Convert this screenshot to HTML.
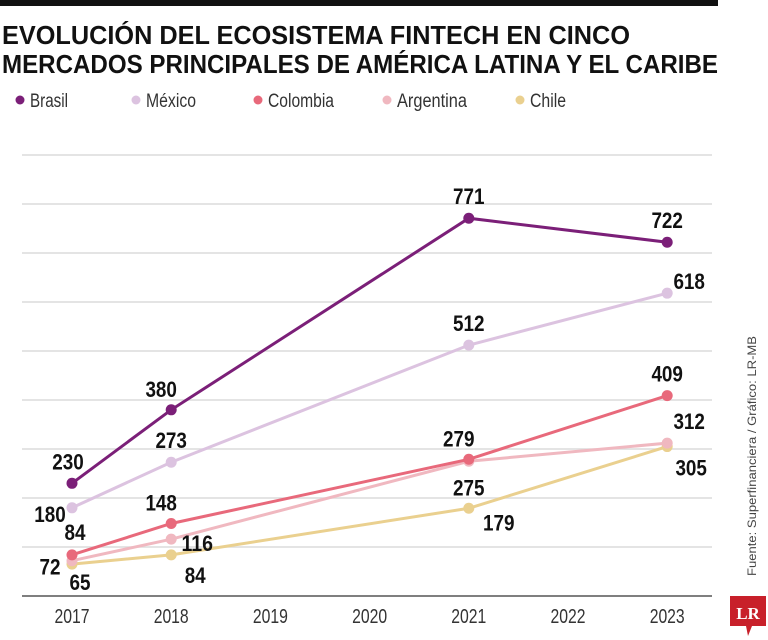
<!DOCTYPE html>
<html><head><meta charset="utf-8"><style>
html,body{margin:0;padding:0;background:#fff;}
svg{display:block;font-family:"Liberation Sans",sans-serif;}
</style></head><body>
<svg id="c" width="768" height="640" viewBox="0 0 768 640">
<rect x="0" y="0" width="718" height="6" fill="#111"/>
<text x="2" y="44" font-size="26" font-weight="bold" fill="#111" textLength="628" lengthAdjust="spacingAndGlyphs">EVOLUCIÓN DEL ECOSISTEMA FINTECH EN CINCO</text>
<text x="2" y="73" font-size="26" font-weight="bold" fill="#111" textLength="716" lengthAdjust="spacingAndGlyphs">MERCADOS PRINCIPALES DE AMÉRICA LATINA Y EL CARIBE</text>
<g id="legend"></g>
<g id="grid"></g>
<g id="xaxis"></g>
<g id="series"></g>
<g id="labels"></g>
<text transform="translate(756,576) rotate(-90)" font-size="12" fill="#444" textLength="240" lengthAdjust="spacingAndGlyphs">Fuente: Superfinanciera / Gráfico: LR-MB</text>
<g>
<path d="M730 596 H766 V626 H752 L748 636 L746 626 H730 Z" fill="#c8202a"/>
<text x="748" y="619" font-family="Liberation Serif,serif" font-weight="bold" font-size="17" fill="#fff" text-anchor="middle">LR</text>
</g>
</svg>
<script>
const years = ["2017","2018","2019","2020","2021","2022","2023"];
const seriesNames = ["Brasil","México","Colombia","Argentina","Chile"];
const dataYears = ["2017","2018","2021","2023"];
const brasil = [230,380,771,722];
const mexico = [180,273,512,618];
const colombia = [84,148,279,409];
const argentina = [72,116,275,312];
const chile = [65,84,179,305];
const gridValues = [100,200,300,400,500,600,700,800,900];

const colors = ["#7b1f78","#dcc3e0","#e8697b","#f0b8c0","#ead08f"];
const allData = [brasil,mexico,colombia,argentina,chile];
const NS = "http://www.w3.org/2000/svg";
function xs(y){ return 72 + years.indexOf(y)*99.2; }
function ys(v){ return 596 - v*0.49; }
function el(tag, attrs, parent){ const e=document.createElementNS(NS,tag); for(const k in attrs) e.setAttribute(k,attrs[k]); parent.appendChild(e); return e; }

const legend=document.getElementById('legend');
const lx=[20,136,258,387,520];
const lw=[38,50,66,70,36];
seriesNames.forEach((n,i)=>{
  const c=el('circle',{cx:lx[i],cy:100,r:4.5,fill:colors[i]},legend);
  
  
  const t=el('text',{x:lx[i]+10,y:107,'font-size':19,fill:'#333',textLength:lw[i],lengthAdjust:'spacingAndGlyphs'},legend);
  t.textContent=n;
  
  
});

const grid=document.getElementById('grid');
gridValues.forEach(v=>{
  const l=el('line',{x1:22,x2:712,y1:ys(v),y2:ys(v),stroke:'#dcdcdc','stroke-width':1.5},grid);
  
  
});
const xaxis=document.getElementById('xaxis');
const ax=el('line',{x1:22,x2:712,y1:ys(0),y2:ys(0),stroke:'#555','stroke-width':1.5},xaxis);


years.forEach(y=>{
  const t=el('text',{x:xs(y),y:623,'font-size':20,fill:'#333','text-anchor':'middle',textLength:35,lengthAdjust:'spacingAndGlyphs'},xaxis);
  t.textContent=y;
  
  
});

const series=document.getElementById('series');
const labels=document.getElementById('labels');
const offs=[
 [[-4,-14],[-10,-13],[0,-14],[0,-14]],
 [[-22,14],[0,-14],[0,-14],[22,-4]],
 [[3,-15],[-10,-13],[-10,-13],[0,-14]],
 [[-22,14],[26,12],[0,34],[22,-14]],
 [[8,26],[24,28],[30,22],[24,29]]
];
for(let i=allData.length-1;i>=0;i--){
  const d=allData[i];
  const pts=d.map((v,j)=>xs(dataYears[j])+','+ys(v)).join(' ');
  const pl=el('polyline',{points:pts,fill:'none',stroke:colors[i],'stroke-width':3},series);
  
  
  d.forEach((v,j)=>{
    const c=el('circle',{cx:xs(dataYears[j]),cy:ys(v),r:5.5,fill:colors[i]},series);
    
    
    const t=el('text',{x:xs(dataYears[j])+offs[i][j][0],y:ys(v)+offs[i][j][1],'font-size':22,'font-weight':'bold',fill:'#111','text-anchor':'middle',textLength:String(v).length*10.5,lengthAdjust:'spacingAndGlyphs'},labels);
    t.textContent=v;
    
    
  });
}
</script>
</body></html>
